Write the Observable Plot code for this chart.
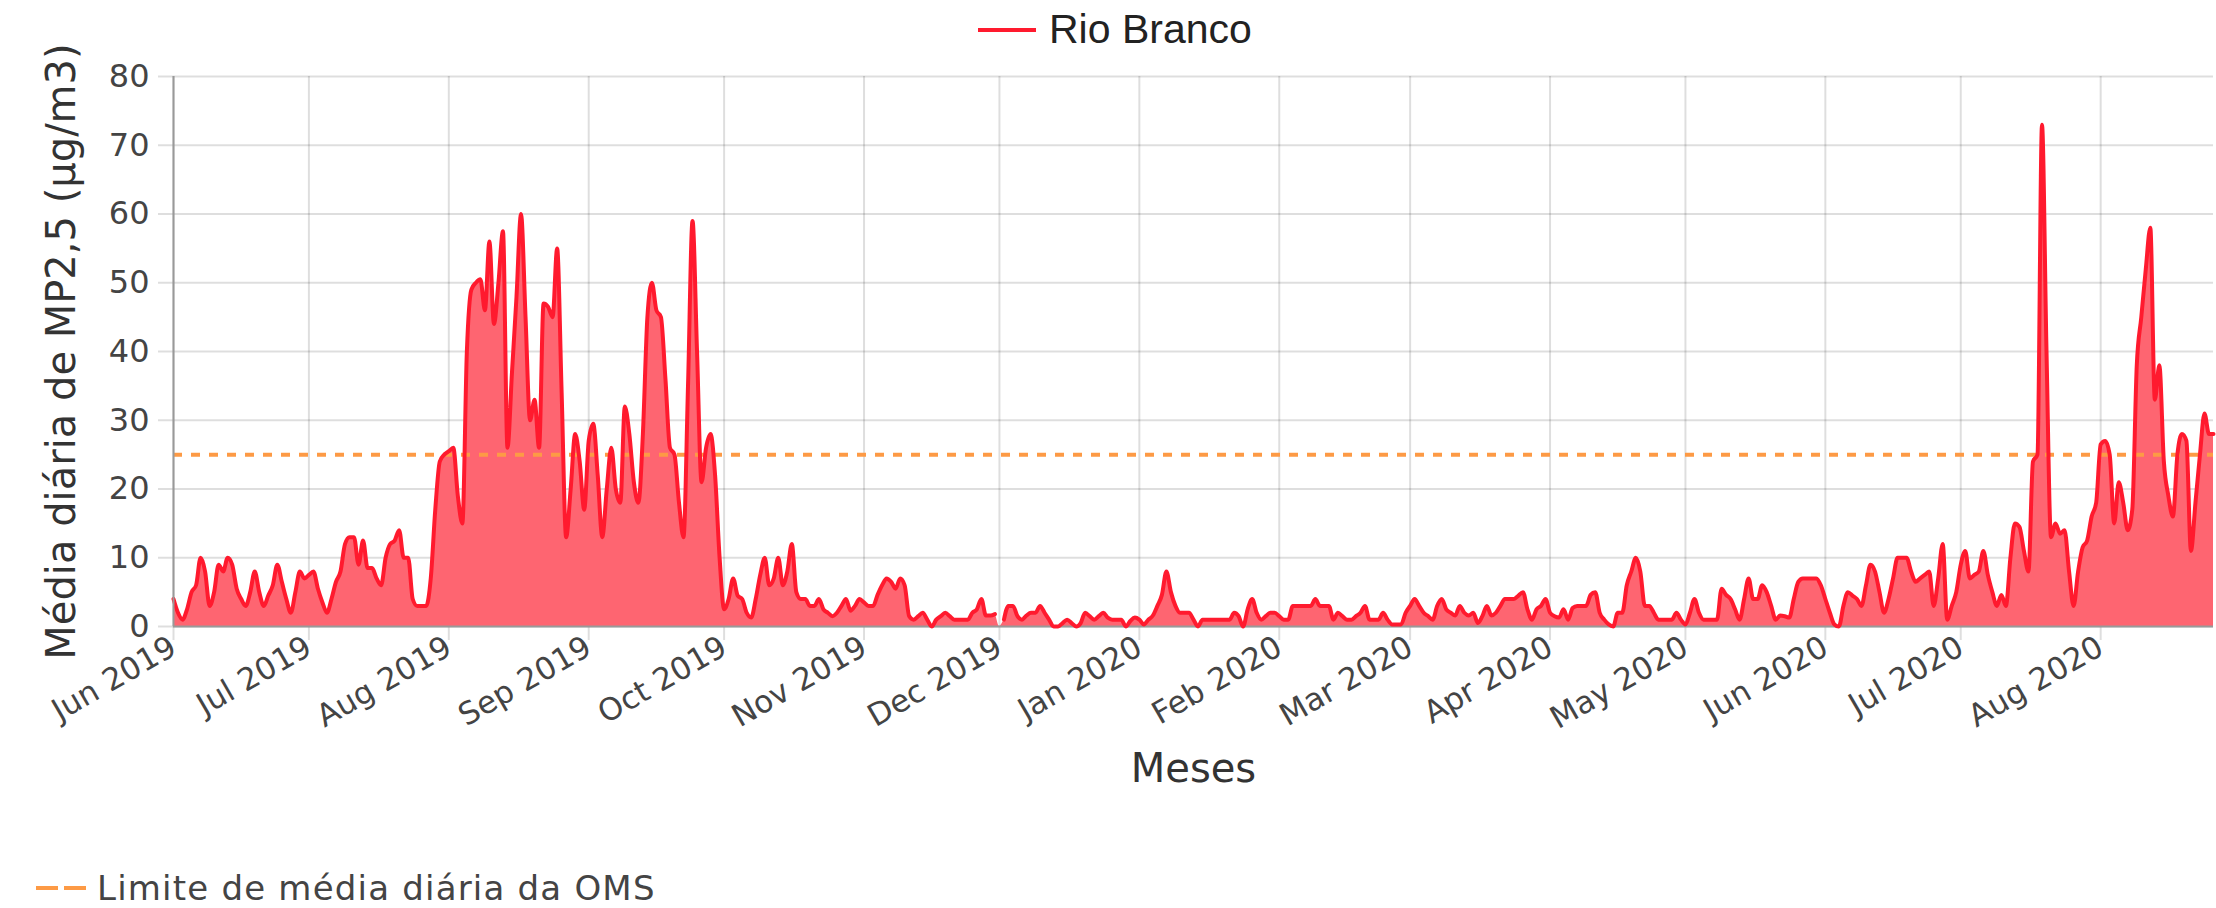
<!DOCTYPE html>
<html>
<head>
<meta charset="utf-8">
<script src="https://cdn.jsdelivr.net/npm/d3@7"></script>
<script src="https://cdn.jsdelivr.net/npm/@observablehq/plot@0.6"></script>
<style>
  html, body { margin: 0; padding: 0; background: #fff; }
  #wrap { position: relative; width: 2216px; height: 908px; overflow: hidden; background: #fff; }
  #legendTop { position: absolute; left: 978px; top: 0; height: 60px; width: 400px; }
  #legendTop .sw { position: absolute; left: 0; top: 28px; width: 58px; height: 4px; background: #ff1a2e; }
  #legendTop .lbl { position: absolute; left: 71px; top: 9px; line-height: 41px; font-family: "Liberation Sans", Arial, sans-serif; font-size: 41px; color: #222; white-space: nowrap; }
  #chart { position: absolute; left: 0; top: 60px; width: 2216px; height: 800px; }
  #legendBottomSwatch { position: absolute; left: 36px; top: 884px; width: 50px; height: 8px; display: block; }
  #legendBottomLabel { position: absolute; left: 97px; top: 873px; line-height: 30px; font-family: "DejaVu Sans", sans-serif; font-size: 34px; letter-spacing: 1.2px; color: #444; white-space: nowrap; }
</style>
</head>
<body>
<div id="wrap">
  <div id="legendTop"></div>
  <div id="chart"></div>
  <svg id="legendBottomSwatch" width="50" height="8" viewBox="0 0 50 8"></svg>
  <div id="legendBottomLabel"></div>
</div>
<script>
// ---- Texts ----
const seriesName = "Rio Branco";
const limitLabel = "Limite de média diária da OMS";
const xTitle = "Meses";
const yTitle = "Média diária de MP2,5 (µg/m3)";

// ---- Daily PM2.5 means (µg/m3), one array per month, starting 2019-06-01 ----
const startDate = "2019-06-01";
const jun2019 = [4,2,1,2.5,5,6,10,8,3,5,9,8,10,9,5.5,4,3,5,8,5,3,4.5,6,9,6.5,4,2,5,8,7];
const jul2019 = [7.5,8,5.5,3.5,2,4,6.5,8,12,13,13,9,12.5,8.5,8.5,7,6,10,12,12.5,14,10,10,4,3,3,3,7,17,24,25];
const aug2019 = [25.5,26,19,15,40,49,50,50.5,46,56,44,50,57.5,26,37,48,60,45,30,33,26,47,46.5,45,55,34,13,20,28,24,17];
const sep2019 = [27,29.5,22,13,20,26,20,18,32,28,21,18,28,45,50,46,45,36,26,25,18,13,35,59,40,21,26,28,22,10];
const oct2019 = [2.5,4,7,4.5,4,2,1.3,4,7.5,10,6,7,10,6,8,12,5,4,4,3,3,4,2.5,2,1.5,2,3,4,2.3,3,4];
const nov2019 = [3.5,3,3,4.6,6,7,6.5,5.5,7,6,1.5,1,1.5,2,1,0,1,1.5,2,1.5,1,1,1,1,2,2.5,4,1.6,1.6,1.8];
const dec2019 = [null,1,3,3,1.5,1,1.6,2,2,3,2,1,0,0,0.5,1,0.5,0,0.5,2,1.5,1,1.5,2,1.3,1,1,1,0,0.8,1.3];
const jan2020 = [1,0.3,1,1.6,3,4.6,8,5,3,2,2,2,1,0,1,1,1,1,1,1,1,2,1.5,0,2.5,4,2,1,1.5,2,2];
const feb2020 = [1.5,1,1,3,3,3,3,3,4,3,3,3,1,2,1.5,1,1,1.5,2,3,1,1,1,2,1,0.3,0.3,0.3,2];
const mar2020 = [3,4,3,2,1.5,1,3,4,2.5,2,1.6,3,2,1.6,2,0.5,1.5,3,1.6,2,3,4,4,4,4.5,5,2.5,1,2.5,3,4];
const apr2020 = [2,1.5,1.3,2.5,1,2.7,3,3,3,4.6,5,2,1,0.3,0,2,2,6,8,10,8,3,3,2,1,1,1,1,2,1];
const may2020 = [0.3,2,4,2,1,1,1,1,5.5,4.6,4,2.5,1,4,7,4,4,6,5,3,1,1.6,1.5,1.3,4,6.5,7,7,7,7,6];
const jun2020 = [4,2,0.3,0,3,5,4.5,4,3,6,9,8,5,2,4,7,10,10,10,8,6.5,7,7.5,8,3,7,12,1,3,5];
const jul2020 = [9,11,7,7.5,8,11,7.5,5,3,4.6,3,10,15,14.5,11,8,24,25,73,40,13,15,13.5,14,8,3,8,11.5,12.5,16,18];
const aug2020 = [26.5,27,25,15,21,18,14,17,38,45,52,58,33,38,24,19,16,25,28,27,11,18,25,31,28,28];

// ---- WHO daily limit and ticks ----
const whoLimit = [25];
const yTicks = [0, 10, 20, 30, 40, 50, 60, 70, 80];
const monthTicks = ["2019-06-01","2019-07-01","2019-08-01","2019-09-01","2019-10-01","2019-11-01","2019-12-01",
  "2020-01-01","2020-02-01","2020-03-01","2020-04-01","2020-05-01","2020-06-01","2020-07-01","2020-08-01"];

// ---- Build table ----
const allMonths = [jun2019, jul2019, aug2019, sep2019, oct2019, nov2019, dec2019, jan2020, feb2020, mar2020, apr2020, may2020, jun2020, jul2020, aug2020];
const values = allMonths.flat();
const start = new Date(startDate + "T00:00:00Z");
const data = values.map((v, i) => ({date: d3.utcDay.offset(start, i), value: v}));
const tickDates = monthTicks.map(s => new Date(s + "T00:00:00Z"));
const fmt = d3.utcFormat("%b %Y");

const lineColor = "#ff1a2e";
const fillColor = "#fe6571";
const limitColor = "#fd9a45";
const gridColor = "#000";
const axisFont = "'DejaVu Sans', sans-serif";

const chart = Plot.plot({
  width: 2216,
  height: 800,
  marginTop: 16,
  marginRight: 3,
  marginBottom: 234,
  marginLeft: 173,
  style: {fontFamily: axisFont, fontSize: "31px", background: "transparent", overflow: "visible"},
  x: {type: "utc", domain: [data[0].date, data[data.length - 1].date]},
  y: {domain: [0, 80]},
  marks: [
    Plot.gridY(yTicks, {stroke: gridColor, strokeOpacity: 0.13, strokeWidth: 2}),
    Plot.gridX(tickDates, {stroke: gridColor, strokeOpacity: 0.13, strokeWidth: 2}),
    Plot.axisY(yTicks, {tickSize: 15, tickPadding: 9, stroke: gridColor, strokeOpacity: 0.13, strokeWidth: 2, fill: "#444", label: null, fontSize: 32, letterSpacing: 3}),
    Plot.axisX(tickDates, {tickSize: 14, tickPadding: 4, tickRotate: -30, tickFormat: fmt, stroke: gridColor, strokeOpacity: 0.13, strokeWidth: 2, fill: "#444", label: null, fontSize: 31, letterSpacing: 2.5}),
    Plot.areaY(data, {x: "date", y: "value", fill: fillColor, curve: "monotone-x"}),
    Plot.ruleY([0], {stroke: "#999", strokeWidth: 2}),
    Plot.ruleY(whoLimit, {stroke: limitColor, strokeWidth: 4, strokeDasharray: "9,9"}),
    Plot.lineY(data, {x: "date", y: "value", stroke: lineColor, strokeWidth: 4, curve: "monotone-x"}),
    Plot.ruleX([data[0].date], {stroke: "#999", strokeWidth: 2}),
    Plot.text([yTitle], {text: d => d, frameAnchor: "left", textAnchor: "middle", rotate: -90, dx: -111, fontSize: 40, fill: "#333", letterSpacing: 1}),
    Plot.text([xTitle], {text: d => d, frameAnchor: "bottom", textAnchor: "middle", dy: 155, fontSize: 40, fill: "#333", letterSpacing: 1})
  ]
});
document.getElementById("chart").appendChild(chart);

// ---- Legends ----
const lt = document.getElementById("legendTop");
lt.innerHTML = `<span class="sw"></span><span class="lbl"></span>`;
lt.querySelector(".lbl").textContent = seriesName;
lt.querySelector(".sw").style.background = lineColor;

const sw = d3.select("#legendBottomSwatch");
sw.append("line").attr("x1", 0).attr("y1", 4).attr("x2", 50).attr("y2", 4)
  .attr("stroke", limitColor).attr("stroke-width", 4).attr("stroke-dasharray", "22,6");
document.getElementById("legendBottomLabel").textContent = limitLabel;
</script>
</body>
</html>
